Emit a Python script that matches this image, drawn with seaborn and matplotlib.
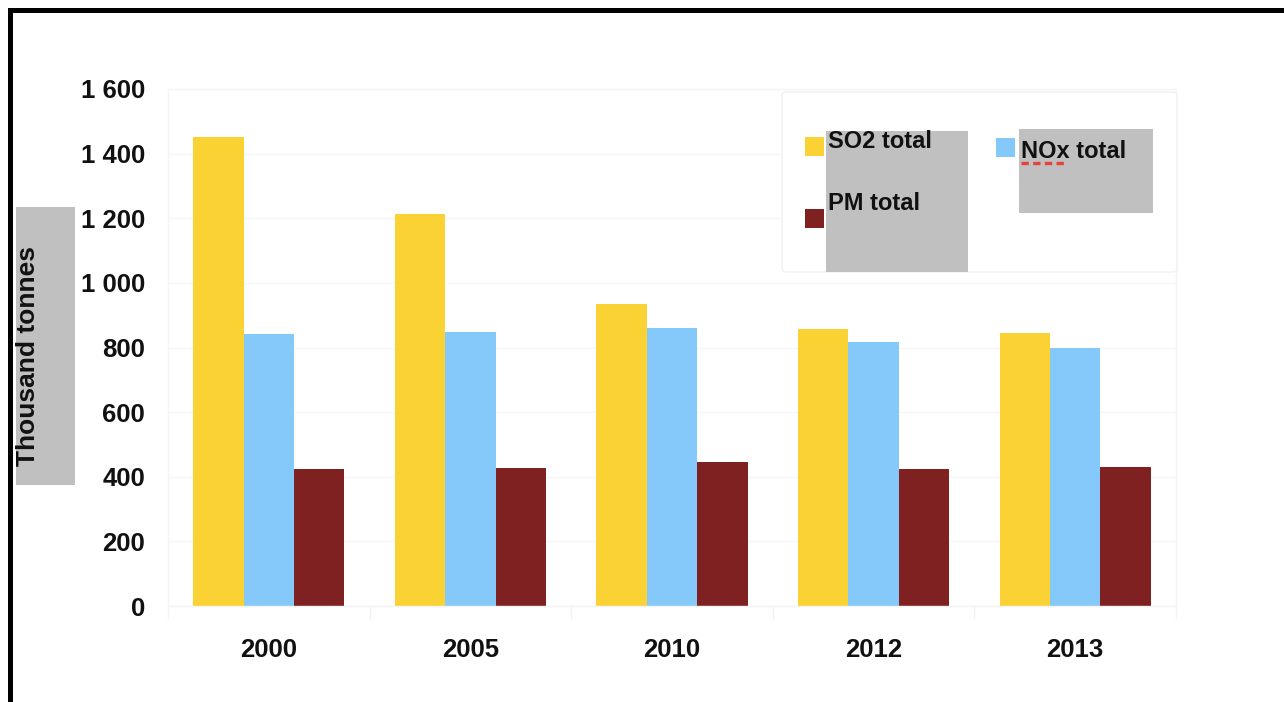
import numpy as np
import pandas as pd
import matplotlib
matplotlib.use("Agg")
import matplotlib.pyplot as plt
from matplotlib.patches import Rectangle, FancyBboxPatch
from matplotlib.lines import Line2D
import seaborn as sns

# Emissions by year (thousand tonnes)
years = ["2000", "2005", "2010", "2012", "2013"]
so2_total = [1450, 1214, 935, 857, 846]
nox_total = [842, 849, 860, 818, 798]
pm_total = [423, 426, 447, 425, 429]

series_names = ["SO2 total", "NOx total", "PM total"]
series_colors = ["#FBD233", "#85C8FA", "#7E2120"]

y_ticks = [0, 200, 400, 600, 800, 1000, 1200, 1400, 1600]
y_tick_labels = ["0", "200", "400", "600", "800", "1 000", "1 200", "1 400", "1 600"]
y_label = "Thousand tonnes"

df = pd.DataFrame({
    "year": years * 3,
    "series": [series_names[0]] * len(years) + [series_names[1]] * len(years) + [series_names[2]] * len(years),
    "value": so2_total + nox_total + pm_total,
})

sns.set_theme(style="white")
plt.rcParams["font.family"] = ["Liberation Sans", "DejaVu Sans"]

W, H = 1284, 702
fig = plt.figure(figsize=(W / 100, H / 100), dpi=100)


def fx(px):
    return px / W


def fy(py):
    return 1 - py / H


ax = fig.add_axes([fx(168), fy(606), (1176 - 168) / W, (606 - 89) / H])
sns.barplot(data=df, x="year", y="value", hue="series", order=years,
            hue_order=series_names, palette=series_colors, width=0.75,
            saturation=1, errorbar=None, legend=False, linewidth=0,
            edgecolor="none", ax=ax)

ax.set_xlim(-0.5, len(years) - 0.5)
ax.set_ylim(0, 1600)
ax.set_yticks(y_ticks, y_tick_labels)
ax.set_xlabel("")
ax.set_ylabel("")

# very light grid and frame
ax.set_axisbelow(True)
ax.yaxis.grid(True, color="#f6f6f6", lw=1)
for sp in ax.spines.values():
    sp.set_color("#f4f4f4")
    sp.set_linewidth(1)

ax.set_xticks(np.arange(-0.5, len(years), 1.0), minor=True)
ax.tick_params(axis="x", which="minor", length=9.4, color="#f2f2f2", width=1, bottom=True)
ax.tick_params(axis="x", which="major", length=0, pad=23, labelsize=18.5)
ax.tick_params(axis="y", which="major", length=0, pad=16.5, labelsize=18.5)
for lab in ax.get_xticklabels() + ax.get_yticklabels():
    lab.set_fontweight("bold")
    lab.set_color("#111111")

# y-axis title with its shaded box
fig.patches.append(Rectangle((fx(16), fy(485)), (75 - 16) / W, (485 - 207) / H,
                             transform=fig.transFigure, facecolor="#c0c0c0",
                             edgecolor="none", zorder=0))
fig.text(fx(28), fy(356), y_label, rotation=90, ha="center", va="center",
         fontsize=19, fontweight="bold", color="#111111", zorder=3)

# legend panel
fig.patches.append(FancyBboxPatch((fx(782), fy(272)), (1177 - 782) / W, (272 - 92) / H,
                                  boxstyle="round,pad=0,rounding_size=0.004",
                                  transform=fig.transFigure, facecolor="white",
                                  edgecolor="#f3f3f3", lw=1.2, zorder=2))
fig.patches.append(Rectangle((fx(826), fy(272)), (968 - 826) / W, (272 - 131) / H,
                             transform=fig.transFigure, facecolor="#c0c0c0",
                             edgecolor="none", zorder=3))
fig.patches.append(Rectangle((fx(1019), fy(213)), (1153 - 1019) / W, (213 - 129) / H,
                             transform=fig.transFigure, facecolor="#c0c0c0",
                             edgecolor="none", zorder=3))

legend_items = [
    (series_names[0], series_colors[0], 805, 137, 828, 148),
    (series_names[2], series_colors[2], 805, 209, 828, 210),
    (series_names[1], series_colors[1], 996, 138, 1021, 158),
]
for name, color, mx, my, tx, ty in legend_items:
    fig.patches.append(Rectangle((fx(mx), fy(my + 19)), 19 / W, 19 / H,
                                 transform=fig.transFigure, facecolor=color,
                                 edgecolor="none", zorder=4))
    fig.text(fx(tx), fy(ty), name, ha="left", va="baseline", fontsize=17,
             fontweight="bold", color="#111111", zorder=5)

# dotted underline beneath "NOx"
fig.lines.append(Line2D([fx(1021), fx(1065)], [fy(163), fy(163)],
                        transform=fig.transFigure, color="#e8403a", lw=2.4,
                        linestyle=(0, (2.2, 1.3)), zorder=6))

# black outer frame (top and left edges)
fig.patches.append(Rectangle((fx(8), fy(13)), (W - 8) / W, 5 / H,
                             transform=fig.transFigure, facecolor="black",
                             edgecolor="none", zorder=7))
fig.patches.append(Rectangle((fx(8), 0), 5 / W, (H - 8) / H,
                             transform=fig.transFigure, facecolor="black",
                             edgecolor="none", zorder=7))

fig.savefig("out.png", dpi=100, facecolor="white")
